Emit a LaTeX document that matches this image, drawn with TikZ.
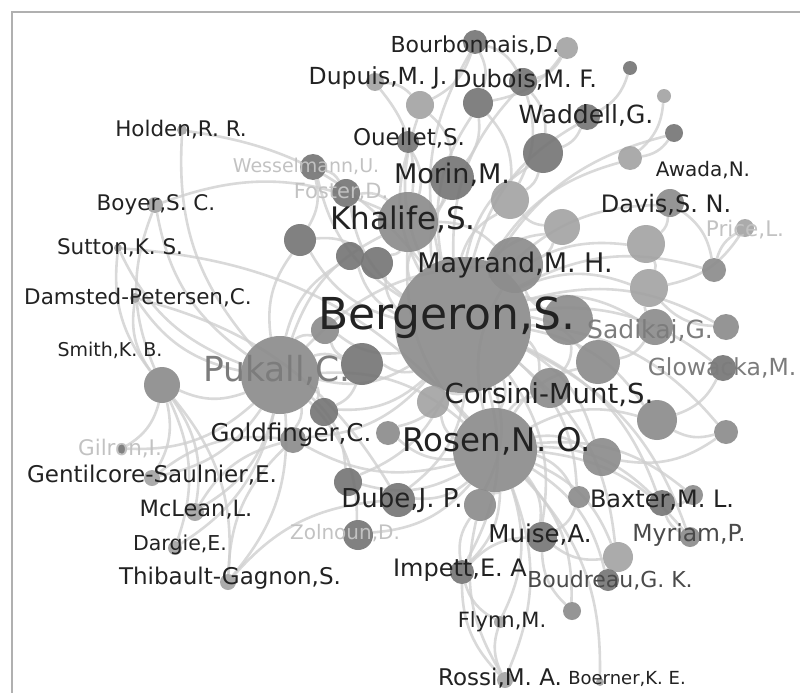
\documentclass[tikz,border=0pt]{standalone}
\usepackage{fontspec}
\setmainfont{DejaVu Sans}
\usetikzlibrary{backgrounds}
\definecolor{ndark}{HTML}{767676}
\definecolor{nmid}{HTML}{8C8C8C}
\definecolor{nlight}{HTML}{A4A4A4}
\definecolor{edgegray}{HTML}{CFCFCF}
\definecolor{labdark}{HTML}{222222}
\definecolor{labmid}{HTML}{4A4A4A}
\definecolor{labgray}{HTML}{7C7C7C}
\definecolor{labfaint}{HTML}{C2C2C2}
\definecolor{framegray}{HTML}{B0B0B0}

\begin{document}
\begin{tikzpicture}[
  x=1pt,y=-1pt,
  au/.style={circle,inner sep=0pt,minimum size=#1,fill=nmid,fill opacity=0.92},
  edge/.style={draw=edgegray,line width=2.6pt,opacity=0.8},
  lab/.style={font=\fontsize{#1}{#1}\selectfont,text=labdark,inner sep=0pt},
  frame/.style={draw=framegray,line width=1.5pt}
]
  \useasboundingbox (0,0) rectangle (800,693);
  % Frame
  \coordinate (fc) at (12,12);
  \coordinate (ft) at (800,12);
  \coordinate (fb) at (12,693);
  \draw[frame] (ft) -- (fc) -- (fb);
  % Authors (name/x/y/diameter/fill)
  \foreach \n/\x/\y/\d/\c in {
    berg/463/325/136/nmid, puk/280/375/78/nmid, ros/495/450/84/nmid,
    kha/408/222/60/nmid, may/515/265/56/nmid, mor/452/178/44/ndark,
    n1/510/200/38/nlight, n0/543/153/40/ndark, bou/475/42/24/ndark,
    n2/567/48/22/nlight, dup/375/82/18/nlight, n3/420/105/28/nlight,
    n4/478/103/30/ndark, dub/523/82/28/ndark, n5/630/68/14/ndark,
    n6/664/96/14/nlight, wad/587/117/26/ndark, n7/674/133/18/ndark,
    n8/630/158/24/nlight, oue/408/142/22/ndark, wes/313/167/26/ndark,
    fos/346/193/28/ndark, n9/300/240/32/ndark, n10/350/256/28/ndark,
    n11/377/263/32/ndark, boy/155/205/16/nlight, hol/182/130/10/nlight,
    sut/118/248/8/nlight, dam/135/298/10/nlight, cham/162/385/36/nmid,
    gil/122/449/10/ndark, gen/152/478/16/nlight, mcl/195/512/18/nlight,
    dar/175/548/14/nlight, thi/228/582/16/nlight, gol/293/440/26/nmid,
    n12/362/364/42/ndark, n13/324/412/28/ndark, n14/348/482/28/ndark,
    zol/358/535/30/ndark, n15/388/433/24/nmid, n16/325/330/28/nmid,
    n17/433/402/32/nlight, n18/550/388/40/nmid, n19/602/457/38/nmid,
    n20/657/420/40/nmid, n21/726/432/24/nmid, n22/480/505/32/nmid,
    dube/398/500/34/ndark, n23/579/497/22/nmid, bax/662/503/26/ndark,
    n24/693/495/20/nmid, mui/542/537/30/ndark, myr/690/537/20/nmid,
    n25/618/557/30/nlight, bdr/608/580/22/ndark, imp/462/572/24/ndark,
    n26/572/611/18/nmid, fly/500/622/12/nlight, rossi/505/680/16/nlight,
    boe/600/682/8/nlight, n27/646/244/38/nlight, n28/714/270/24/nmid,
    n29/649/288/38/nlight, n30/562/227/36/nlight, dav/670/203/28/nmid,
    pri/745/228/18/nlight, sad/655/327/36/nmid, n31/726/327/26/nmid,
    glo/723/368/26/ndark, n32/598/362/44/nmid, n33/568/320/50/nmid}
    \node[au=\d,fill=\c] (\n) at (\x,\y) {};
  % Co-authorship links
  \begin{scope}[on background layer]
    \foreach \a/\b in {
      berg/kha, berg/may, berg/mor, berg/n1, berg/n0, berg/n3, berg/n4,
      berg/dub, berg/bou, berg/wad, berg/n8, berg/n9, berg/n10, berg/n11,
      berg/n16, berg/n12, berg/n17, berg/n18, berg/n33, berg/n32, berg/n27,
      berg/n29, berg/n30, berg/dav, berg/sad, berg/n31, berg/glo, berg/n20,
      berg/n21, berg/n19, berg/ros, berg/puk, berg/dube, berg/n22, berg/mui,
      berg/imp, berg/gol, berg/n13, berg/n14, berg/n15, berg/bax, berg/n23,
      berg/n25, berg/wes, berg/fos, berg/oue, berg/n28, berg/n7, berg/myr,
      puk/cham, puk/boy, puk/hol, puk/sut, puk/dam, puk/gil, puk/gen,
      puk/mcl, puk/dar, puk/thi, puk/gol, puk/n12, puk/n13, puk/n16, puk/n9,
      puk/kha, puk/ros, puk/n14, puk/zol, puk/may, puk/n10,
      ros/dube, ros/n22, ros/mui, ros/imp, ros/fly, ros/rossi, ros/n26,
      ros/n25, ros/bdr, ros/n23, ros/bax, ros/myr, ros/n19, ros/n20,
      ros/n17, ros/n18, ros/n14, ros/zol, ros/gol, ros/n15, ros/n24,
      ros/boe, ros/n32, ros/may, ros/kha,
      cham/gil, cham/gen, cham/mcl, cham/dar, cham/thi, cham/boy, cham/sut,
      cham/dam, hol/berg, boy/kha, sut/ros, dam/dube, thi/gol, thi/dube,
      gen/gol, mcl/gol, rossi/imp, rossi/fly, fly/imp, rossi/n22, imp/mui,
      imp/n22, n26/mui, bdr/n25, n25/mui, myr/bax, n24/bax, n21/n19,
      n23/mui, dav/n27, n28/pri, n31/n29, glo/n20, n21/n20, n7/n8, n5/wad,
      n6/n8, n27/n29, sad/n29, sad/n32, n33/n18, n33/may, n30/may, n30/n1,
      dav/n28, pri/n29, bou/n3, bou/n4, bou/dub, n2/dub, n2/n4, dup/n3,
      dup/kha, n3/mor, n4/mor, dub/n0, wad/n0, oue/kha, wes/fos, wes/n9,
      fos/kha, n9/n11, n10/n11, n4/n1, mor/kha, n0/n1, dub/n1, kha/may,
      kha/n11, n12/n16, n12/n13}
      \draw[edge] (\a) to[bend left=22] (\b);
  \end{scope}
  % Labels
  \node[lab=22]   (lbou)   at (475,45)  {Bourbonnais,D.};
  \node[lab=23.5] (ldup)   at (378,78)  {Dupuis,M. J.};
  \node[lab=24]   (ldub)   at (525,80)  {Dubois,M. F.};
  \node[lab=25]   (lwad)   at (586,115) {Waddell,G.};
  \node[lab=21.5] (lhol)   at (181,130) {Holden,R. R.};
  \node[lab=23]   (loue)   at (409,138) {Ouellet,S.};
  \node[lab=19,text=labfaint] (lwes) at (306,166) {Wesselmann,U.};
  \node[lab=27]   (lmor)   at (452,175) {Morin,M.};
  \node[lab=20]   (lawa)   at (703,170) {Awada,N.};
  \node[lab=21,text=labfaint] (lfos) at (341,192) {Foster,D.};
  \node[lab=21.5] (lboy)   at (156,205) {Boyer,S. C.};
  \node[lab=31]   (lkha)   at (403,220) {Khalife,S.};
  \node[lab=24]   (ldav)   at (666,205) {Davis,S. N.};
  \node[lab=21.5,text=labfaint] (lpri) at (745,230) {Price,L.};
  \node[lab=21.5] (lsut)   at (120,248) {Sutton,K. S.};
  \node[lab=27]   (lmay)   at (515,265) {Mayrand,M. H.};
  \node[lab=21.5] (ldam)   at (138,298) {Damsted-Petersen,C.};
  \node[lab=25,text=labgray] (lsad) at (650,332) {Sadikaj,G.};
  \node[lab=44]   (lberg)  at (447,318) {Bergeron,S.};
  \node[lab=19]   (lsmi)   at (110,350) {Smith,K. B.};
  \node[lab=34.5,text=labgray] (lpuk) at (277,370) {Pukall,C.};
  \node[lab=23.5,text=labgray] (lglo) at (722,368) {Glowacka,M.};
  \node[lab=27.5] (lcor)   at (549,395) {Corsini-Munt,S.};
  \node[lab=32.5] (lros)   at (497,441) {Rosen,N. O.};
  \node[lab=24.5] (lgol)   at (291,435) {Goldfinger,C.};
  \node[lab=21.5,text=labfaint] (lgil) at (120,449) {Gilron,I.};
  \node[lab=23]   (lgen)   at (152,475) {Gentilcore-Saulnier,E.};
  \node[lab=26]   (ldube)  at (402,500) {Dube,J. P.};
  \node[lab=24]   (lbax)   at (662,500) {Baxter,M. L.};
  \node[lab=22.5] (lmcl)   at (196,510) {McLean,L.};
  \node[lab=20,text=labfaint] (lzol) at (345,533) {Zolnoun,D.};
  \node[lab=24.5] (lmui)   at (540,535) {Muise,A.};
  \node[lab=23.5,text=labmid] (lmyr) at (689,535) {Myriam,P.};
  \node[lab=20.5] (ldar)   at (180,545) {Dargie,E.};
  \node[lab=23]   (lthi)   at (230,578) {Thibault-Gagnon,S.};
  \node[lab=24]   (limp)   at (460,570) {Impett,E. A};
  \node[lab=22,text=labmid] (lbdr) at (610,580) {Boudreau,G. K.};
  \node[lab=21]   (lfly)   at (502,622) {Flynn,M.};
  \node[lab=23]   (lrossi) at (500,678) {Rossi,M. A.};
  \node[lab=18]   (lboe)   at (627,679) {Boerner,K. E.};
\end{tikzpicture}
\end{document}
